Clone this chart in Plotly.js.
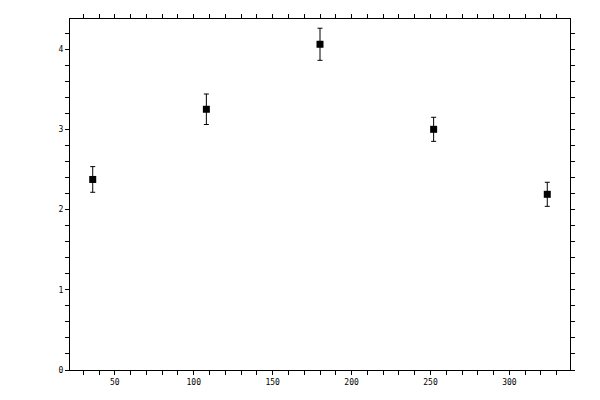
<!DOCTYPE html>
<html>
<head>
<meta charset="utf-8">
<script src="https://cdn.plot.ly/plotly-3.0.1.min.js"></script>
<style>
  body { margin: 0; background: #fff; }
  #chart { width: 600px; height: 400px; }
</style>
</head>
<body>
<div id="chart"></div>
<script>
// values
var xVals = [36, 108, 180, 252, 324];
var yVals = [2.375, 3.25, 4.06, 3.0, 2.19];
var yErr = [0.16, 0.19, 0.2, 0.15, 0.15];

var xTicks = [50, 100, 150, 200, 250, 300];
var yTicks = [0, 1, 2, 3, 4];

var xRange = [21.6, 338.4];
var yRange = [0, 4.375];

var points = {
    x: xVals,
    y: yVals,
    mode: 'markers',
    type: 'scatter',
    marker: { symbol: 'square', size: 7, color: '#000' },
    error_y: { type: 'data', array: yErr, visible: true, color: '#000', thickness: 1, width: 2.5 },
    hoverinfo: 'none'
};

var tickFont = { family: 'DejaVu Sans Mono', size: 8, color: '#000' };

// main axes: labels, minor ticks and the outer half of the majors
// overlay axes: the inner half of the majors, so they cross the frame
var layout = {
    width: 600,
    height: 400,
    showlegend: false,
    paper_bgcolor: '#fff',
    plot_bgcolor: '#fff',
    margin: { l: 70, r: 30, t: 19, b: 30 },
    xaxis: {
        range: xRange,
        tickvals: xTicks,
        ticks: 'outside', ticklen: 4, tickwidth: 1, tickcolor: '#000',
        minor: { dtick: 10, tick0: 0, ticks: 'outside', ticklen: 4, tickwidth: 1, tickcolor: '#000' },
        showline: true, linecolor: '#000', linewidth: 1, mirror: 'ticks',
        showgrid: false, zeroline: false,
        tickfont: tickFont
    },
    xaxis2: {
        overlaying: 'x',
        range: xRange,
        tickvals: xTicks,
        ticks: 'inside', ticklen: 4, tickwidth: 1, tickcolor: '#000',
        showticklabels: false, mirror: 'ticks', showline: false,
        showgrid: false, zeroline: false
    },
    yaxis: {
        range: yRange,
        tickvals: yTicks,
        ticks: 'outside', ticklen: 4, tickwidth: 1, tickcolor: '#000',
        minor: { dtick: 0.2, tick0: 0, ticks: 'outside', ticklen: 4, tickwidth: 1, tickcolor: '#000' },
        showline: true, linecolor: '#000', linewidth: 1, mirror: 'ticks',
        showgrid: false, zeroline: false,
        tickfont: tickFont
    },
    yaxis2: {
        overlaying: 'y',
        range: yRange,
        tickvals: yTicks,
        ticks: 'inside', ticklen: 4, tickwidth: 1, tickcolor: '#000',
        showticklabels: false, mirror: 'ticks', showline: false,
        showgrid: false, zeroline: false
    }
};

Plotly.newPlot('chart', [points], layout, { staticPlot: true });
</script>
</body>
</html>
